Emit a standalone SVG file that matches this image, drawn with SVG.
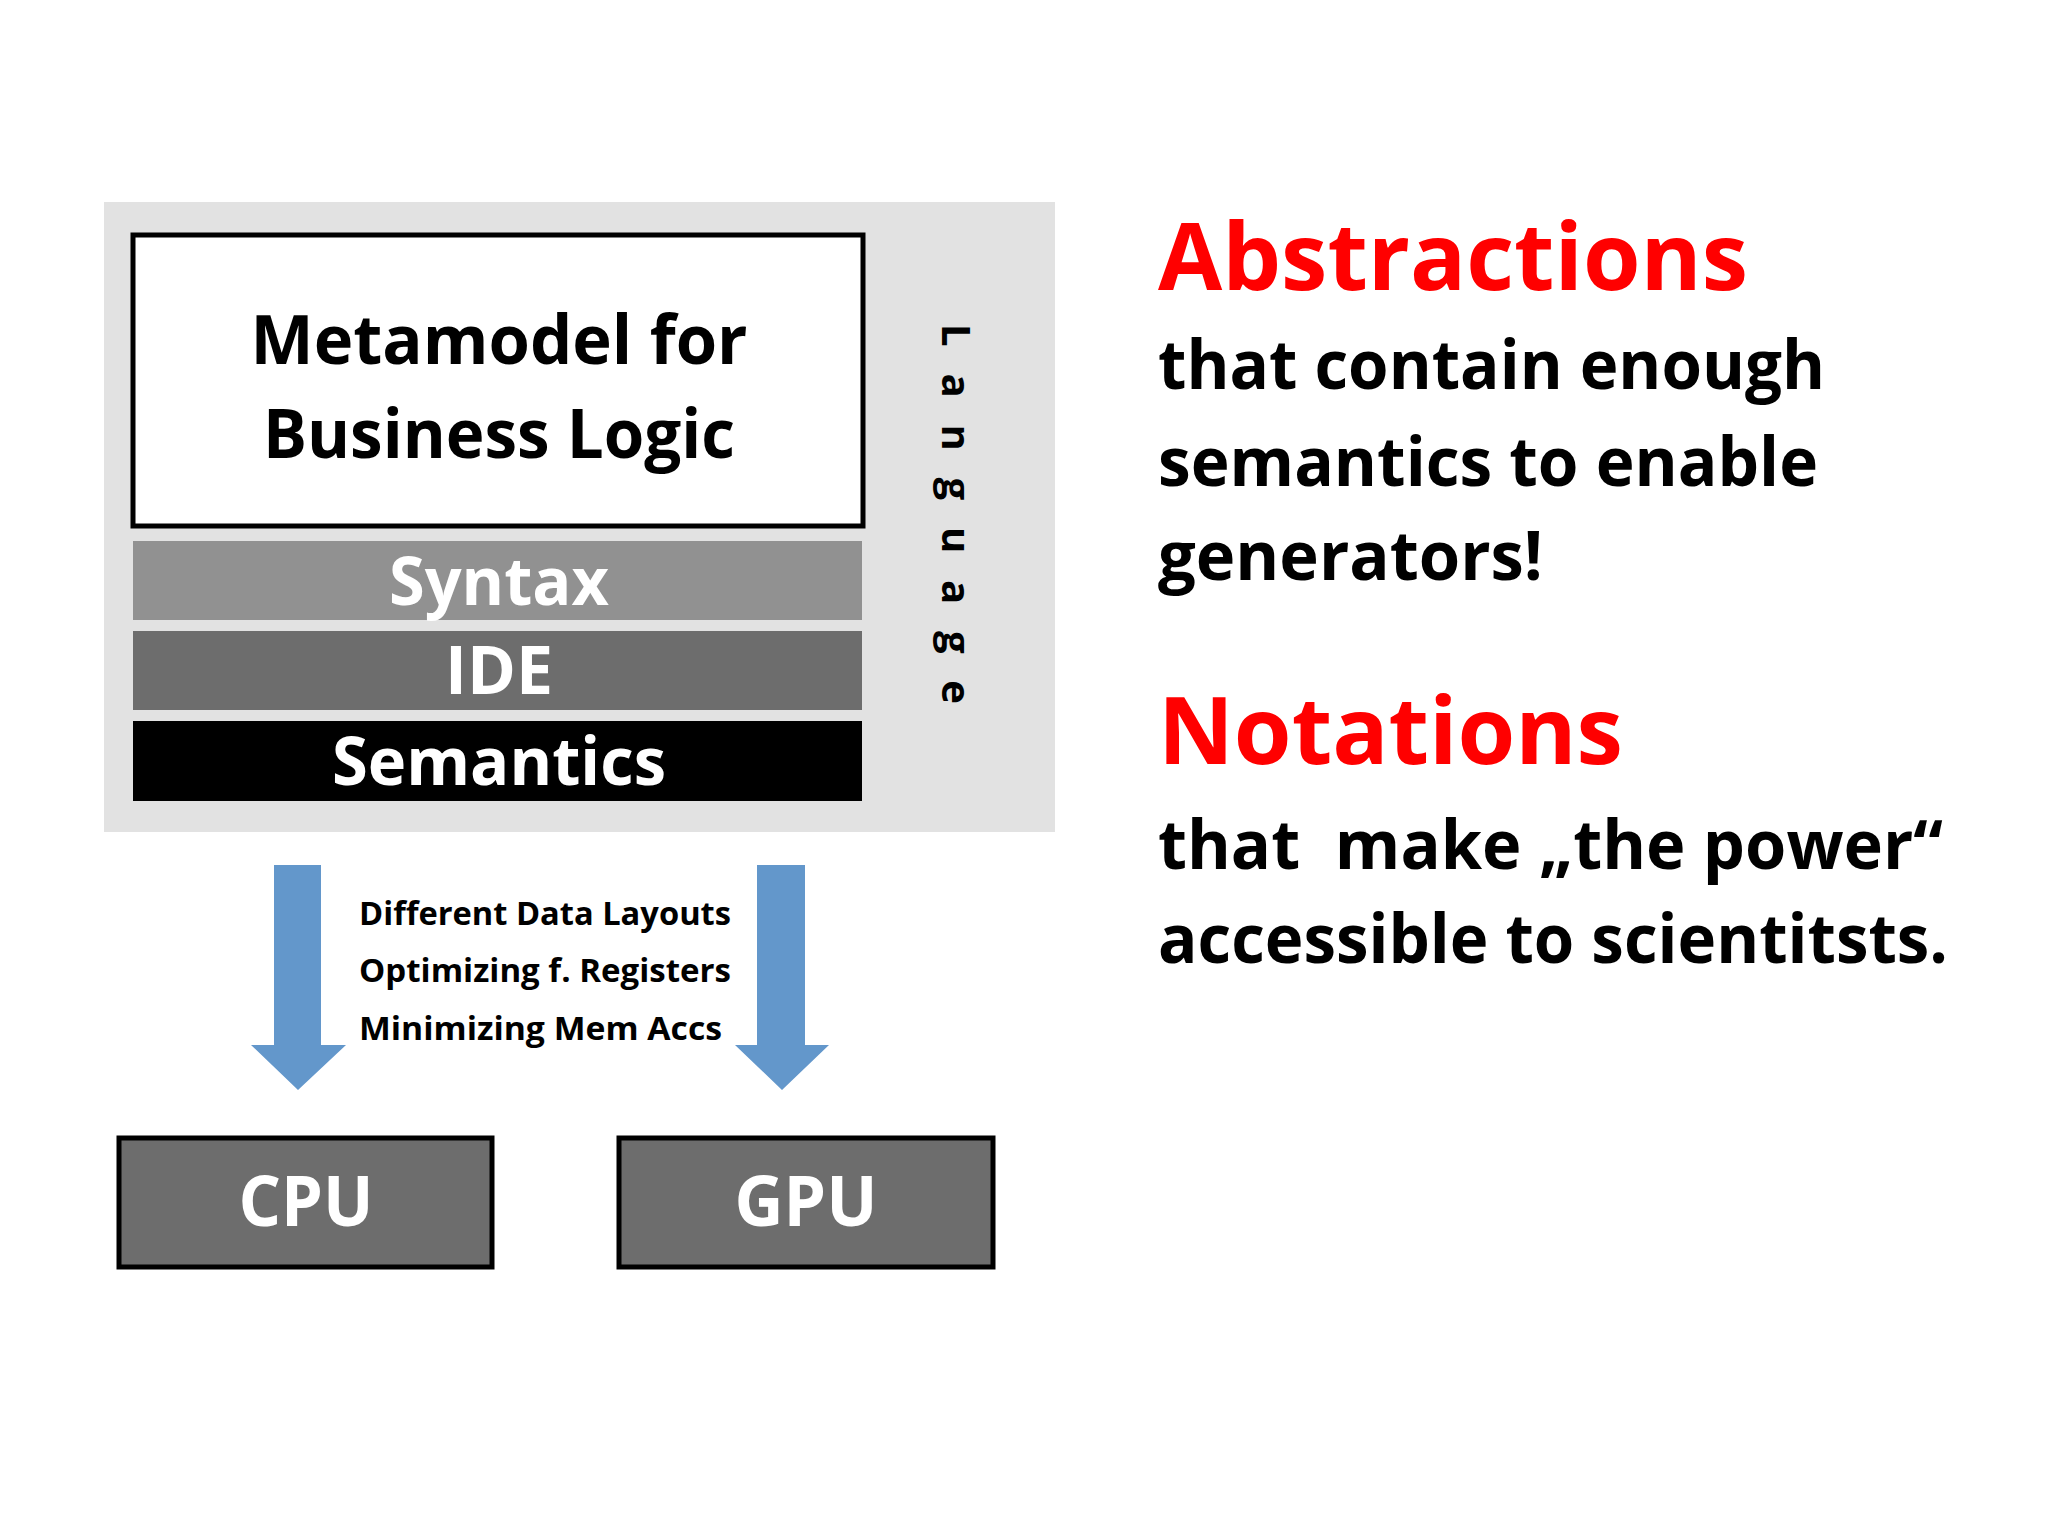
<svg xmlns="http://www.w3.org/2000/svg" width="2048" height="1536" viewBox="0 0 2048 1536">
<style>
text{font-family:"Open Sans","Liberation Sans",sans-serif;font-weight:700}
.w{fill:#fff}.k{fill:#000}.r{fill:#ff0000}
.arr{fill:#6397cb}
</style>
<rect width="2048" height="1536" fill="#fff"/>
<g id="language-panel">
<rect x="104" y="202" width="951" height="630" fill="#e2e2e2"/>
<text transform="translate(942,324) rotate(90)" font-size="40" font-weight="400" letter-spacing="22" class="k" textLength="402" lengthAdjust="spacing">Language</text>
</g>
<g id="metamodel">
<rect x="133" y="235" width="730" height="291" fill="#fff" stroke="#000" stroke-width="5"/>
<text x="499" y="364" text-anchor="middle" font-size="68" textLength="497" lengthAdjust="spacingAndGlyphs">Metamodel for</text>
<text x="499" y="458" text-anchor="middle" font-size="68" textLength="472" lengthAdjust="spacingAndGlyphs">Business Logic</text>
</g>
<g id="syntax"><rect x="133" y="541" width="729" height="79" fill="#919191"/>
<text x="499" y="605" text-anchor="middle" font-size="66" class="w" textLength="220" lengthAdjust="spacingAndGlyphs">Syntax</text></g>
<g id="ide"><rect x="133" y="631" width="729" height="79" fill="#6d6d6d"/>
<text x="499" y="694" text-anchor="middle" font-size="66" class="w" textLength="108" lengthAdjust="spacingAndGlyphs">IDE</text></g>
<g id="semantics"><rect x="133" y="721" width="729" height="80" fill="#000"/>
<text x="499" y="785" text-anchor="middle" font-size="66" class="w" textLength="334" lengthAdjust="spacingAndGlyphs">Semantics</text></g>
<g id="connectors">
<polygon class="arr" points="274,865 321,865 321,1045 346,1045 298,1090 251,1045 274,1045"/>
<polygon class="arr" points="757,865 805,865 805,1045 829,1045 782,1090 735,1045 757,1045"/>
<text x="359" y="925" font-size="33" textLength="372" lengthAdjust="spacingAndGlyphs">Different Data Layouts</text>
<text x="359" y="982" font-size="33" textLength="372" lengthAdjust="spacingAndGlyphs">Optimizing f. Registers</text>
<text x="359" y="1040" font-size="33" textLength="363" lengthAdjust="spacingAndGlyphs">Minimizing Mem Accs</text>
</g>
<g id="cpu"><rect x="119" y="1138" width="373" height="129" fill="#6d6d6d" stroke="#000" stroke-width="5"/>
<text x="306" y="1226" text-anchor="middle" font-size="70" class="w" textLength="135" lengthAdjust="spacingAndGlyphs">CPU</text></g>
<g id="gpu"><rect x="619" y="1138" width="374" height="129" fill="#6d6d6d" stroke="#000" stroke-width="5"/>
<text x="806" y="1226" text-anchor="middle" font-size="70" class="w" textLength="143" lengthAdjust="spacingAndGlyphs">GPU</text></g>
<g id="text-right">
<text x="1158" y="290" font-size="94" class="r" textLength="590" lengthAdjust="spacingAndGlyphs">Abstractions</text>
<text x="1158" y="389" font-size="68" textLength="667" lengthAdjust="spacingAndGlyphs">that contain enough</text>
<text x="1158" y="486" font-size="68" textLength="660" lengthAdjust="spacingAndGlyphs">semantics to enable</text>
<text x="1158" y="580" font-size="68" textLength="385" lengthAdjust="spacingAndGlyphs">generators!</text>
<text x="1158" y="764" font-size="94" class="r" textLength="465" lengthAdjust="spacingAndGlyphs">Notations</text>
<text x="1158" y="869" font-size="68" textLength="785" lengthAdjust="spacingAndGlyphs" xml:space="preserve">that  make „the power“</text>
<text x="1158" y="963" font-size="68" textLength="790" lengthAdjust="spacingAndGlyphs">accessible to scientitsts.</text>
</g>
</svg>
